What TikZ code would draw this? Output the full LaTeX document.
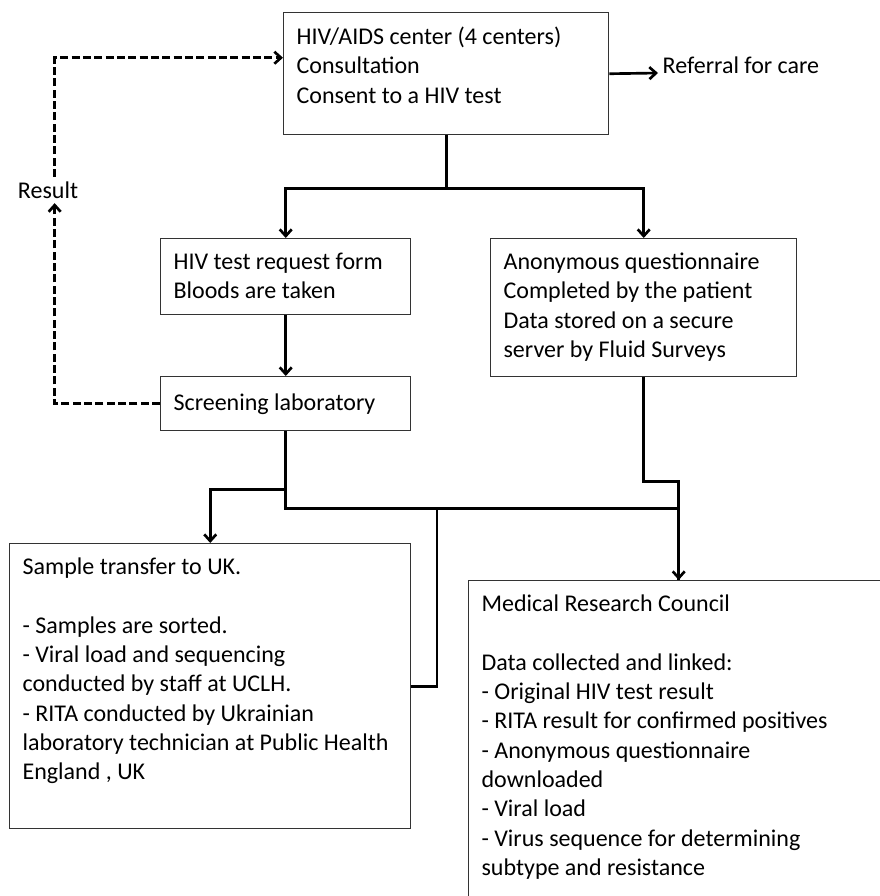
\documentclass[tikz,border=0pt]{standalone}
\usepackage{fontspec}
\setmainfont{Carlito}
\usetikzlibrary{arrows.meta}

\begin{document}
\begin{tikzpicture}[x=0.75pt,y=-0.75pt,
    font=\fontsize{18}{22}\selectfont,
    box/.style={draw=black!80, line width=1.1pt, anchor=north west, inner sep=0pt},
    boxtext/.style={anchor=north west, align=left, inner xsep=10pt, inner ysep=11pt},
    link/.style={line width=2pt},
    arr/.style={link, -{Straight Barb[length=5pt,width=9pt]}},
    dashlink/.style={arr, dash pattern=on 6pt off 2.5pt}]
    \useasboundingbox (0,0) rectangle (880,896);
    \clip (0,0) rectangle (880,896);

    % boxes
    \node[box, minimum width=243.75pt, minimum height=91.5pt,
        label={[boxtext]north west:{HIV/AIDS center (4 centers)\\Consultation\\Consent to a HIV test}}]
        (center) at (283,12) {};
    \node[box, minimum width=187.5pt, minimum height=57pt,
        label={[boxtext]north west:{HIV test request form\\Bloods are taken}}]
        (form) at (160,238) {};
    \node[box, minimum width=229.5pt, minimum height=103.5pt,
        label={[boxtext]north west:{Anonymous questionnaire\\Completed by the patient\\Data stored on a secure\\server by Fluid Surveys}}]
        (quest) at (490,238) {};
    \node[box, minimum width=187.5pt, minimum height=40.5pt,
        label={[boxtext, anchor=west]west:{Screening laboratory}}]
        (lab) at (160,376) {};
    \node[box, minimum width=300.75pt, minimum height=213.75pt,
        label={[boxtext]north west:{Sample transfer to UK.\\[22pt]- Samples are sorted.\\- Viral load and sequencing\\conducted by staff at UCLH.\\- RITA conducted by Ukrainian\\laboratory technician at Public Health\\England , UK}}]
        (uk) at (9,543) {};
    \node[box, minimum width=315pt, minimum height=255pt,
        label={[boxtext]north west:{Medical Research Council\\[22pt]Data collected and linked:\\- Original HIV test result\\- RITA result for confirmed positives\\- Anonymous questionnaire\\downloaded\\- Viral load\\- Virus sequence for determining\\subtype and resistance}}]
        (mrc) at (468,580) {};

    % free labels
    \node[anchor=base west] (care) at (658,73) {Referral for care};
    \node (res) at (48,190) {Result};
    \coordinate (bus) at (437,507);

    % flow
    \draw[arr] (center.east) -- (care.base west);
    \draw[arr] (center.south) -- ++(0,53) -| (form.north);
    \draw[arr] (center.south) -- ++(0,53) -| (quest.north);
    \draw[arr] (form) -- (lab);
    \draw[arr] (lab.south) -- ++(0,58) -| (uk.north);
    \draw[arr] (lab.south) -- ++(0,77) -| (mrc.north);
    \draw[link] (quest.south) -- ++(0,104) -| (mrc.north);
    \draw[link] (uk.east) -| (bus);

    % result goes back to the center
    \draw[dashlink] (lab.west) -| ([xshift=5pt]res.south);
    \draw[dashlink] ([xshift=5pt]res.north) |- ([yshift=12pt]center.west);
\end{tikzpicture}
\end{document}
